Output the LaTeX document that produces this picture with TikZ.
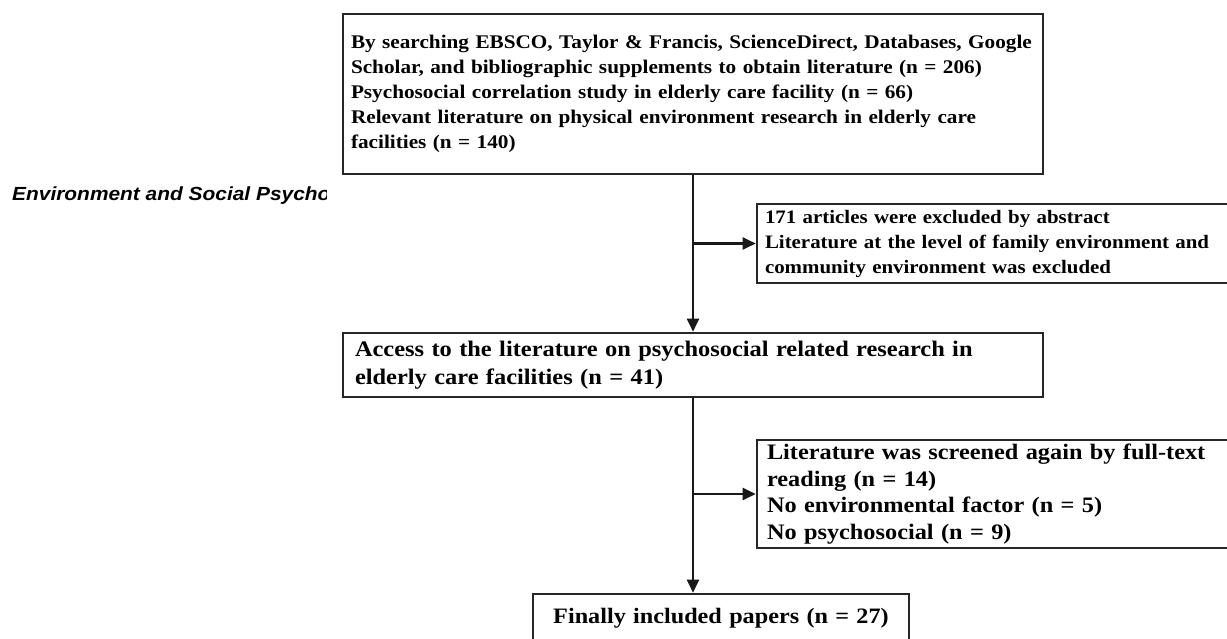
\documentclass[tikz,border=0pt]{standalone}
\usepackage{fontspec}
\setmainfont{Liberation Serif}
\newfontfamily\wideserif[FakeStretch=1.1]{Liberation Serif}
\newfontfamily\headsans[FakeStretch=1.1]{Liberation Sans}
\usetikzlibrary{arrows.meta,positioning,calc}

\begin{document}
\begin{tikzpicture}[x=1pt, y=-1pt, >={Triangle[length=13pt,width=12pt]},
  box/.style={draw=black!85, line width=2.6pt, inner ysep=0pt, align=left},
  flow/.style={->, line width=2.2pt, black!90}]
  \clip (0,0) rectangle (1227,638);
  \fill[white] (0,0) rectangle (1227,638);
  % running head, cut off by the figure
  \begin{scope}
    \clip (0,170) rectangle (326,220);
    \node[anchor=base west, inner sep=0pt, font=\headsans\bfseries\itshape\fontsize{19}{22}\selectfont] (head) at (12,200) {Environment and Social Psycho};
  \end{scope}
  % main column
  \node[box, inner xsep=8pt, text width=684pt, minimum height=160pt,
    font=\wideserif\bfseries\fontsize{19.3}{25}\selectfont] (search) at (693,94)
    {By searching EBSCO, Taylor \& Francis, ScienceDirect, Databases, Google\\
     Scholar, and bibliographic supplements to obtain literature (n = 206)\\
     Psychosocial correlation study in elderly care facility (n = 66)\\
     Relevant literature on physical environment research in elderly care\\
     facilities (n = 140)};
  \node[box, inner xsep=12pt, text width=676pt, minimum height=64pt,
    font=\wideserif\bfseries\fontsize{22.2}{28}\selectfont] (access) at (693,365)
    {Access to the literature on psychosocial related research in\\
     elderly care facilities (n = 41)};
  \node[box, inner xsep=12pt, text width=352pt, minimum height=48pt, align=center,
    font=\wideserif\bfseries\fontsize{22}{26}\selectfont] (final) at (721,618)
    {Finally included papers (n = 27)};
  % exclusions on the right
  \node[box, inner xsep=8pt, text width=467pt, minimum height=79pt,
    font=\wideserif\bfseries\fontsize{19}{25}\selectfont] (exabs) at (998.5,243.5)
    {171 articles were excluded by abstract\\
     Literature at the level of family environment and\\
     community environment was excluded};
  \node[box, inner xsep=10pt, text width=463pt, minimum height=108pt,
    font=\wideserif\bfseries\fontsize{22.1}{26.7}\selectfont] (exfull) at (998.5,494)
    {Literature was screened again by full-text\\
     reading (n = 14)\\
     No environmental factor (n = 5)\\
     No psychosocial (n = 9)};
  % connectors
  \draw[flow] (search.south) -- (access.north);
  \draw[flow] (search.south |- exabs.west) -- (exabs.west);
  \draw[flow] (access.south) -- (access.south |- final.north);
  \draw[flow] (access.south |- exfull.west) -- (exfull.west);
\end{tikzpicture}
\end{document}
